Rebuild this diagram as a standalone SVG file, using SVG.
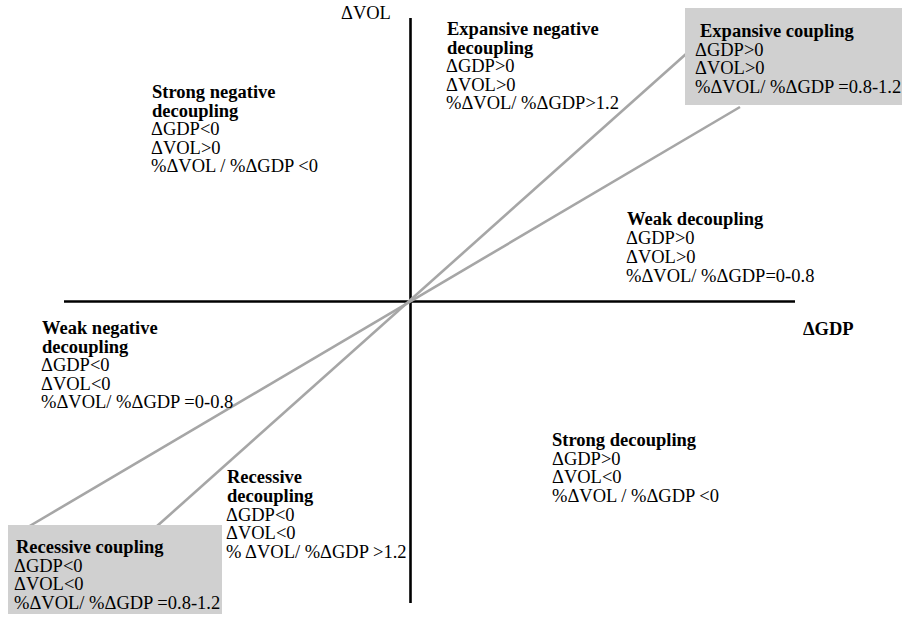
<svg xmlns="http://www.w3.org/2000/svg" width="902" height="617" viewBox="0 0 902 617">
<style>
text{font-family:'Liberation Serif','DejaVu Serif',serif;font-size:18.5px;fill:#000}
.b{font-weight:bold}
.box{fill:#d0d0d0;stroke:none}
.axis{stroke:#000;stroke-width:2.6;fill:none}
.ray{stroke:#a6a6a6;stroke-width:2.6;fill:none}
</style>
<rect width="902" height="617" fill="#fff"/>
<g id="connectors">
<line class="axis" x1="64" y1="301.5" x2="795" y2="301.5"/>
<line class="axis" x1="410.5" y1="18" x2="410.5" y2="603"/>
<line class="ray" x1="156" y1="527" x2="686" y2="54"/>
<line class="ray" x1="28" y1="527" x2="740" y2="107"/>
</g>
<g font-family="Liberation Serif, serif">
<g id="axis-vol"><text x="341" y="19">ΔVOL</text></g>
<g id="axis-gdp"><text class="b" x="803" y="335">ΔGDP</text></g>
<g id="expansive-coupling">
<rect class="box" x="685" y="8" width="217" height="97"/>
<text class="b" x="700" y="37">Expansive coupling</text>
<text x="695" y="55.5">ΔGDP&gt;0</text>
<text x="695" y="74">ΔVOL&gt;0</text>
<text x="695" y="92.5">%ΔVOL/ %ΔGDP =0.8-1.2</text>
</g>
<g id="expansive-negative-decoupling">
<text class="b" x="447" y="35">Expansive negative</text>
<text class="b" x="447" y="53.5">decoupling</text>
<text x="446" y="72">ΔGDP&gt;0</text>
<text x="446" y="90.5">ΔVOL&gt;0</text>
<text x="446" y="109">%ΔVOL/ %ΔGDP&gt;1.2</text>
</g>
<g id="strong-negative-decoupling">
<text class="b" x="152" y="98">Strong negative</text>
<text class="b" x="152" y="116.5">decoupling</text>
<text x="151" y="135">ΔGDP&lt;0</text>
<text x="151" y="153.5">ΔVOL&gt;0</text>
<text x="151" y="172">%ΔVOL / %ΔGDP &lt;0</text>
</g>
<g id="weak-decoupling">
<text class="b" x="627" y="225">Weak decoupling</text>
<text x="626" y="244">ΔGDP&gt;0</text>
<text x="626" y="263">ΔVOL&gt;0</text>
<text x="626" y="281.5">%ΔVOL/ %ΔGDP=0-0.8</text>
</g>
<g id="weak-negative-decoupling">
<text class="b" x="42" y="334">Weak negative</text>
<text class="b" x="42" y="352.5">decoupling</text>
<text x="41" y="371">ΔGDP&lt;0</text>
<text x="41" y="389.5">ΔVOL&lt;0</text>
<text x="41" y="408">%ΔVOL/ %ΔGDP =0-0.8</text>
</g>
<g id="strong-decoupling">
<text class="b" x="552" y="446">Strong decoupling</text>
<text x="552" y="464.5">ΔGDP&gt;0</text>
<text x="552" y="483">ΔVOL&lt;0</text>
<text x="552" y="501.5">%ΔVOL / %ΔGDP &lt;0</text>
</g>
<g id="recessive-decoupling">
<text class="b" x="227" y="483">Recessive</text>
<text class="b" x="227" y="502">decoupling</text>
<text x="226" y="520.5">ΔGDP&lt;0</text>
<text x="226" y="539">ΔVOL&lt;0</text>
<text x="226" y="557.5">% ΔVOL/ %ΔGDP &gt;1.2</text>
</g>
<g id="recessive-coupling">
<rect class="box" x="8" y="525" width="214" height="89"/>
<text class="b" x="16" y="553">Recessive coupling</text>
<text x="14" y="571.5">ΔGDP&lt;0</text>
<text x="14" y="590">ΔVOL&lt;0</text>
<text x="14" y="608.5">%ΔVOL/ %ΔGDP =0.8-1.2</text>
</g>
</g>
</svg>
